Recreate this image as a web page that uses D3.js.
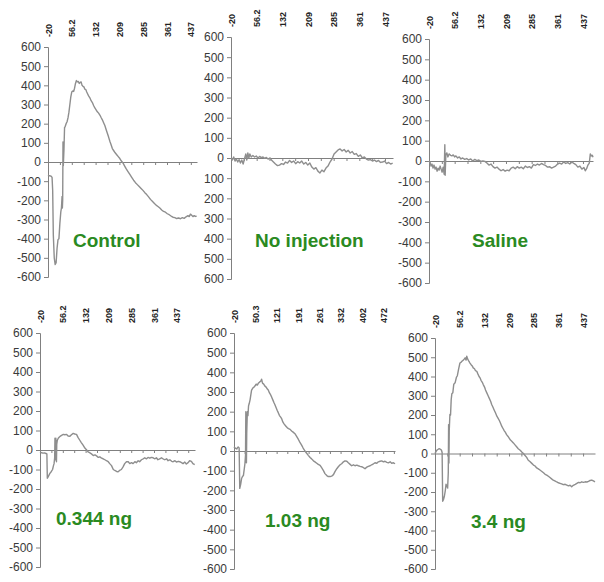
<!DOCTYPE html>
<html>
<head>
<meta charset="utf-8">
<script src="https://cdn.jsdelivr.net/npm/d3@7"></script>
<style>
body { margin: 0; background: #fff; }
svg { display: block; font-family: Arial, "Liberation Sans", sans-serif; }
</style>
</head>
<body>
<svg id="chart"></svg>
<script>
const yTicks = [600, 500, 400, 300, 200, 100, 0, -100, -200, -300, -400, -500, -600];
const xTicksA = [-20, 56.2, 132, 209, 285, 361, 437];
const xTicksB = [-20, 50.3, 121, 191, 261, 332, 402, 472];
const titles = ["Control", "No injection", "Saline", "0.344 ng", "1.03 ng", "3.4 ng"];
const xEnds = [457, 461, 467, 498, 511, 474];

const controlData = [[-20,-68],[-15,-72],[-10,-74],[-7,-80],[-5,-150],[-3,-380],[0,-500],[3,-535],[6,-525],[9,-450],[12,-405],[15,-400],[18,-320],[21,-260],[23,-240],[25,-180],[26,-240],[27,-200],[28,105],[29,-20],[31,60],[33,180],[35,185],[38,200],[41,210],[44,230],[47,260],[50,300],[53,340],[56,365],[59,370],[62,368],[65,385],[68,410],[71,425],[74,418],[77,420],[80,410],[83,415],[86,418],[89,400],[92,395],[95,392],[98,380],[101,378],[104,365],[107,355],[110,345],[114,335],[118,320],[122,310],[126,295],[130,282],[134,272],[138,262],[142,255],[146,245],[150,232],[154,220],[158,205],[162,190],[166,170],[170,150],[174,130],[178,108],[182,90],[186,70],[190,60],[195,48],[200,38],[205,28],[210,18],[215,5],[220,-5],[225,-20],[230,-35],[236,-50],[242,-65],[248,-80],[254,-95],[260,-108],[266,-118],[272,-128],[278,-138],[284,-148],[290,-160],[296,-170],[302,-182],[308,-195],[314,-205],[320,-215],[326,-225],[332,-232],[338,-240],[344,-250],[350,-258],[356,-262],[362,-270],[368,-275],[374,-282],[380,-288],[386,-290],[392,-295],[398,-292],[404,-296],[410,-290],[416,-294],[422,-286],[428,-280],[432,-285],[436,-272],[440,-278],[444,-285],[448,-280],[452,-284],[456,-282]];

const noInjectionData = [[-20,0],[-16,-10],[-12,5],[-8,-15],[-4,-5],[0,-20],[4,-8],[8,-25],[12,-10],[16,-30],[20,-5],[24,20],[27,-10],[30,25],[33,0],[36,20],[40,5],[45,12],[50,5],[55,10],[60,0],[65,8],[70,2],[75,5],[80,-2],[85,3],[90,-5],[96,0],[100,-10],[106,-20],[112,-30],[118,-38],[124,-35],[130,-28],[136,-32],[142,-20],[148,-25],[154,-12],[160,-22],[166,-15],[172,-28],[178,-18],[184,-25],[190,-15],[196,-30],[202,-22],[208,-35],[214,-25],[220,-45],[226,-55],[232,-48],[238,-65],[244,-74],[250,-60],[256,-68],[262,-50],[268,-40],[274,-20],[280,-5],[286,20],[292,30],[298,40],[304,45],[310,35],[316,42],[322,30],[328,38],[334,25],[340,32],[346,18],[352,22],[358,8],[364,15],[370,0],[376,5],[382,-5],[388,-10],[394,-8],[400,-15],[406,-10],[412,-18],[418,-12],[424,-22],[430,-20],[436,-15],[442,-28],[448,-22],[454,-30],[460,-25]];

const salineData = [[-20,0],[-17,-5],[-14,-25],[-11,-15],[-8,-35],[-5,-20],[-2,-40],[1,-30],[4,-50],[7,-35],[10,-45],[13,-25],[16,-40],[19,-55],[22,-30],[25,-65],[27,80],[28,-70],[30,30],[33,40],[36,20],[40,35],[44,28],[48,25],[52,30],[56,20],[60,25],[65,15],[70,20],[75,10],[80,15],[86,8],[92,12],[98,5],[104,10],[110,0],[116,8],[122,2],[128,5],[134,-2],[140,0],[146,-2],[152,-10],[158,-20],[164,-15],[170,-28],[176,-35],[182,-30],[188,-40],[194,-48],[200,-42],[206,-50],[212,-45],[218,-48],[224,-35],[230,-30],[236,-38],[242,-28],[248,-35],[254,-30],[260,-38],[266,-25],[272,-32],[278,-28],[284,-35],[290,-18],[296,-22],[302,-15],[308,-20],[314,-12],[320,-18],[326,-22],[332,-30],[338,-28],[344,-35],[350,-30],[356,-25],[362,-15],[368,-10],[374,-15],[380,-5],[386,-12],[392,-8],[398,-15],[404,-5],[410,-12],[416,-18],[422,-30],[428,-25],[434,-40],[440,-32],[444,-48],[448,-38],[452,-20],[456,-10],[459,35],[462,25],[465,28],[467,18]];

const dose0344Data = [[-20,-9],[-15,-14],[-10,-16],[-5,-15],[0,-18],[3,-20],[4.5,-145],[8,-135],[13,-120],[18,-110],[22,-100],[25,-80],[27,-70],[29,-40],[30,60],[31,-50],[33,60],[35,-60],[36,30],[38,50],[41,60],[44,65],[47,70],[52,75],[58,80],[63,78],[69,80],[74,72],[80,70],[85,78],[91,85],[96,82],[102,80],[107,65],[113,50],[118,38],[124,25],[130,10],[136,0],[141,-10],[147,-15],[152,-20],[158,-28],[164,-25],[169,-30],[175,-38],[180,-35],[186,-42],[191,-45],[197,-50],[202,-55],[208,-60],[213,-70],[219,-80],[225,-100],[230,-105],[236,-110],[241,-112],[246,-105],[252,-100],[258,-85],[263,-70],[269,-60],[275,-60],[280,-70],[286,-65],[291,-70],[297,-60],[302,-65],[308,-55],[313,-60],[319,-50],[325,-45],[330,-40],[336,-45],[341,-38],[347,-42],[352,-38],[358,-40],[363,-45],[369,-40],[374,-50],[380,-45],[386,-40],[391,-45],[397,-50],[403,-45],[408,-55],[414,-50],[420,-58],[425,-60],[431,-55],[436,-62],[442,-58],[447,-60],[453,-65],[458,-70],[464,-62],[469,-72],[475,-65],[480,-55],[486,-58],[491,-70],[497,-75]];

const dose103Data = [[-20,22],[-16,15],[-11,10],[-8,18],[-6,20],[-3,15],[-1,-190],[2,-170],[5,-140],[8,-130],[11,-125],[14,-90],[16,-65],[18,-20],[19,200],[21,-60],[22,90],[24,200],[26,180],[28,230],[30,240],[33,260],[36,290],[38,310],[42,320],[46,325],[49,330],[53,340],[57,335],[60,344],[64,350],[68,355],[71,365],[74,345],[78,340],[82,330],[86,325],[90,315],[93,310],[97,295],[101,285],[104,275],[108,260],[112,245],[115,235],[119,220],[123,205],[126,195],[130,180],[134,172],[137,165],[141,148],[145,138],[148,132],[152,125],[156,118],[160,114],[165,110],[170,102],[175,96],[181,88],[186,76],[192,60],[197,45],[203,30],[208,15],[214,0],[219,-10],[225,-22],[231,-33],[236,-40],[242,-50],[247,-55],[253,-62],[258,-68],[264,-73],[269,-85],[275,-100],[280,-115],[286,-125],[291,-130],[297,-130],[302,-128],[308,-120],[313,-105],[319,-90],[324,-80],[330,-70],[335,-65],[341,-55],[346,-50],[352,-52],[357,-60],[363,-68],[368,-75],[374,-70],[379,-75],[385,-72],[390,-75],[396,-78],[401,-80],[407,-85],[412,-90],[418,-82],[423,-78],[429,-75],[434,-70],[440,-65],[445,-60],[451,-62],[456,-55],[462,-52],[467,-50],[473,-55],[478,-52],[484,-58],[489,-60],[495,-55],[500,-62],[506,-60],[511,-65]];

const dose34Data = [[-20,0],[-17,10],[-14,18],[-10,22],[-7,25],[-3,22],[0,17],[2,5],[3.7,-248],[6,-240],[9,-222],[12,-190],[14,-160],[17,-170],[19,-180],[21,-100],[22,150],[23,-50],[24,120],[26,203],[28,200],[30,280],[32,310],[35,315],[38,360],[42,367],[46,395],[49,404],[53,440],[57,470],[61,475],[64,480],[67,485],[70,490],[73,497],[76,485],[78,505],[81,490],[85,478],[88,470],[92,460],[95,455],[98,445],[102,440],[105,430],[109,427],[112,415],[116,400],[119,393],[122,380],[126,370],[129,358],[133,345],[136,330],[140,315],[144,300],[148,285],[152,270],[155,255],[159,240],[163,225],[167,210],[171,194],[175,182],[179,170],[183,155],[186,142],[190,130],[194,118],[198,108],[201,98],[205,90],[209,80],[213,70],[217,64],[222,55],[227,45],[232,35],[237,25],[243,17],[248,8],[253,0],[258,-10],[263,-20],[268,-35],[273,-42],[278,-50],[284,-60],[289,-65],[294,-75],[299,-80],[304,-86],[309,-92],[315,-100],[320,-108],[325,-112],[330,-118],[335,-125],[340,-132],[345,-138],[350,-142],[356,-148],[361,-152],[366,-155],[371,-158],[376,-162],[382,-160],[387,-164],[392,-168],[397,-165],[402,-173],[407,-165],[413,-160],[418,-155],[423,-150],[428,-152],[433,-147],[438,-150],[444,-147],[449,-148],[454,-145],[459,-140],[464,-138],[469,-142],[474,-147]];

const series = [controlData, noInjectionData, salineData, dose0344Data, dose103Data, dose34Data];
const xLabelSets = [xTicksA, xTicksA, xTicksA, xTicksA, xTicksB, xTicksA];

// panel boxes in pixels (axis start, axis end, y of +600, y of -600, title position)
const panels = [
  {left: 48,  right: 197, top: 47,  bottom: 277, tx: 73,  ty: 247, minus: true},
  {left: 231, right: 393, top: 37,  bottom: 279, tx: 255, ty: 247, minus: false},
  {left: 429, right: 593, top: 39,  bottom: 283, tx: 472, ty: 247, minus: true},
  {left: 40,  right: 195, top: 333, bottom: 567, tx: 56,  ty: 525, minus: true},
  {left: 234, right: 395, top: 333, bottom: 569, tx: 265, ty: 527, minus: true},
  {left: 435, right: 595, top: 338, bottom: 569, tx: 471, ty: 528, minus: true}
];

const width = 604, height = 582;
const lineColor = "#8e8e8e";
const axisColor = "#808080";
const textColor = "#3a3a3a";
const green = "#2a8a22";

var svg = d3.select("#chart")
  .attr("width", width)
  .attr("height", height);

function drawPanel(i) {
  var p = panels[i];
  var data = series[i];
  var labels = xLabelSets[i];

  var x = d3.scaleLinear()
    .domain([-20, xEnds[i]])
    .range([p.left, p.right]);
  var y = d3.scaleLinear()
    .domain([-600, 600])
    .range([p.bottom, p.top]);

  var g = svg.append("g").attr("class", "panel");

  // y axis
  var fmt = p.minus ? (d) => String(d) : (d) => String(Math.abs(d));
  var yAxis = d3.axisLeft(y)
    .tickValues(yTicks)
    .tickSize(4)
    .tickPadding(3)
    .tickFormat(fmt);
  var ya = g.append("g")
    .attr("transform", "translate(" + p.left + ",0)")
    .call(yAxis);
  ya.selectAll("path, line").attr("stroke", axisColor);
  ya.selectAll("text")
    .attr("fill", textColor)
    .style("font-size", "12px")
    .style("font-family", "Arial, 'Liberation Sans', sans-serif");

  // zero line with minor ticks
  var step = labels[1] - labels[0];
  var minor = d3.range(labels[0], xEnds[i] + 0.01, step / 2);
  var xAxis = d3.axisBottom(x)
    .tickValues(minor)
    .tickSizeInner(3)
    .tickSizeOuter(0)
    .tickFormat("");
  var xa = g.append("g")
    .attr("transform", "translate(0," + y(0) + ")")
    .call(xAxis);
  xa.selectAll("path, line").attr("stroke", axisColor);

  // category labels on top, rotated
  var topAxis = d3.axisTop(x)
    .tickValues(labels)
    .tickSize(0)
    .tickPadding(0)
    .tickFormat((d) => String(d));
  var ta = g.append("g")
    .attr("transform", "translate(0," + (p.top - 10) + ")")
    .call(topAxis);
  ta.select(".domain").remove();
  ta.selectAll("text")
    .attr("transform", "rotate(-90)")
    .attr("x", 0)
    .attr("y", 0)
    .attr("dy", "0.35em")
    .attr("text-anchor", "start")
    .attr("fill", "#222")
    .style("font-size", "9px")
    .style("font-weight", "bold")
    .style("font-family", "Arial, 'Liberation Sans', sans-serif");

  // trace
  var line = d3.line()
    .x((d) => x(d[0]))
    .y((d) => y(d[1]));
  g.append("path")
    .datum(data)
    .attr("d", line)
    .attr("fill", "none")
    .attr("stroke", lineColor)
    .attr("stroke-width", 1.4)
    .attr("stroke-linejoin", "round");

  // title
  g.append("text")
    .attr("x", p.tx)
    .attr("y", p.ty)
    .attr("fill", green)
    .style("font-size", "19px")
    .style("font-weight", "bold")
    .text(titles[i]);
}

for (var i = 0; i < panels.length; i++) {
  drawPanel(i);
}
</script>
</body>
</html>
